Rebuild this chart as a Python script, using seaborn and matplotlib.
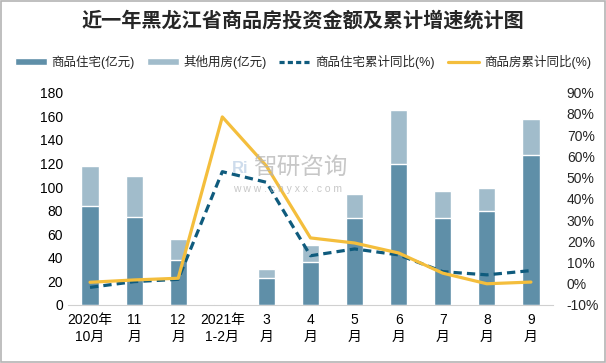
import matplotlib
matplotlib.use("Agg")
import matplotlib.pyplot as plt
from matplotlib.patches import Patch, Rectangle
from matplotlib.lines import Line2D
from matplotlib.ticker import FuncFormatter
import seaborn as sns
import pandas as pd
import numpy as np

# data
months = ["2020年\n10月", "11\n月", "12\n月", "2021年\n1-2月", "3\n月", "4\n月",
          "5\n月", "6\n月", "7\n月", "8\n月", "9\n月"]
residential = [84, 74.5, 38, 1.1, 23, 36.5, 73.5, 119.5, 73.5, 79.5, 127.6]
other_use = [34, 35, 18, 0.6, 7.5, 14, 20.5, 46, 23, 20, 30.5]
resid_yoy = [-1.7, 1.0, 2.1, 52.8, 47.8, 13.2, 16.4, 13.6, 5.7, 4.2, 6.2]
total_yoy = [0.7, 1.8, 2.6, 78.6, 55.5, 21.6, 19.2, 14.5, 5.0, 0.0, 0.8]

DARK = "#5f8fa8"
LIGHT = "#a1bccb"
NAVY = "#0f5b7d"
GOLD = "#f4be3c"

sns.set_style("white")
plt.rcParams["font.family"] = ["Liberation Sans", "Noto Sans CJK SC", "DejaVu Sans"]

df = pd.DataFrame({
    "month": months,
    "pos": np.arange(len(months)),
    "residential": residential,
    "total": np.array(residential) + np.array(other_use),
    "resid_yoy": resid_yoy,
    "total_yoy": total_yoy,
})

fig = plt.figure(figsize=(6.06, 3.63), dpi=100)
ax = fig.add_axes([0.1122, 0.1598, 0.8003, 0.5848])

sns.barplot(data=df, x="month", y="total", color=LIGHT, width=0.39,
            saturation=1, ax=ax)
sns.barplot(data=df, x="month", y="residential", color=DARK, width=0.39,
            saturation=1, ax=ax)
ax.set_xlim(-0.5, len(months) - 0.5)
ax.set_ylim(0, 180)
ax.set_yticks(range(0, 181, 20))
ax.set_xlabel("")
ax.set_ylabel("")
ax.tick_params(axis="both", length=0, labelsize=10, colors="#000000")
ax.tick_params(axis="x", pad=6)
for s in ["top", "right", "left"]:
    ax.spines[s].set_visible(False)
ax.spines["bottom"].set_color("#d0d0d0")

ax2 = ax.twinx()
sns.lineplot(data=df, x="pos", y="resid_yoy", color=NAVY, lw=2.3,
             linestyle=(0, (2.6, 1.6)), ax=ax2)
sns.lineplot(data=df, x="pos", y="total_yoy", color=GOLD, lw=2.3, ax=ax2)
ax2.set_ylim(-10, 90)
ax2.set_yticks(range(-10, 91, 10))
ax2.yaxis.set_major_formatter(FuncFormatter(lambda v, p: f"{v:.0f}%"))
ax2.set_xlim(-0.5, len(months) - 0.5)
ax2.set_xlabel("")
ax2.set_ylabel("")
ax2.tick_params(axis="y", length=0, labelsize=10, pad=10)
for s in ["top", "right", "left", "bottom"]:
    ax2.spines[s].set_visible(False)

# watermark
fig.text(0.382, 0.535, "Ri", fontsize=12, color="#c9d9ea", fontweight="bold",
         ha="left", va="center", alpha=0.9)
fig.text(0.418, 0.535, "智研咨询", fontsize=17, color="#b5b5b5",
         ha="left", va="center", alpha=0.75)
fig.text(0.385, 0.48, "w w w . c h y x x . c o m", fontsize=7.5,
         color="#b5b5b5", ha="left", va="center", alpha=0.75)

fig.suptitle("近一年黑龙江省商品房投资金额及累计增速统计图", x=0.5, y=0.975,
             fontsize=14.5, fontweight="bold", family=["Noto Sans CJK SC"])

handles = [
    Patch(facecolor=DARK, label="商品住宅(亿元)"),
    Patch(facecolor=LIGHT, label="其他用房(亿元)"),
    Line2D([], [], color=NAVY, lw=2.3, linestyle=(0, (1.6, 1.0)),
           label="商品住宅累计同比(%)"),
    Line2D([], [], color=GOLD, lw=2.3, label="商品房累计同比(%)"),
]
fig.legend(handles=handles, loc="center", bbox_to_anchor=(0.5, 0.83), ncol=4,
           frameon=False, fontsize=9, handlelength=2.5, handleheight=0.5,
           columnspacing=1.0, handletextpad=0.4)

fig.patches.append(Rectangle((0.001, 0.002), 0.997, 0.995, transform=fig.transFigure,
                             fill=False, edgecolor="#b4b4b4", lw=1.2))

fig.savefig("out.png", dpi=100)
